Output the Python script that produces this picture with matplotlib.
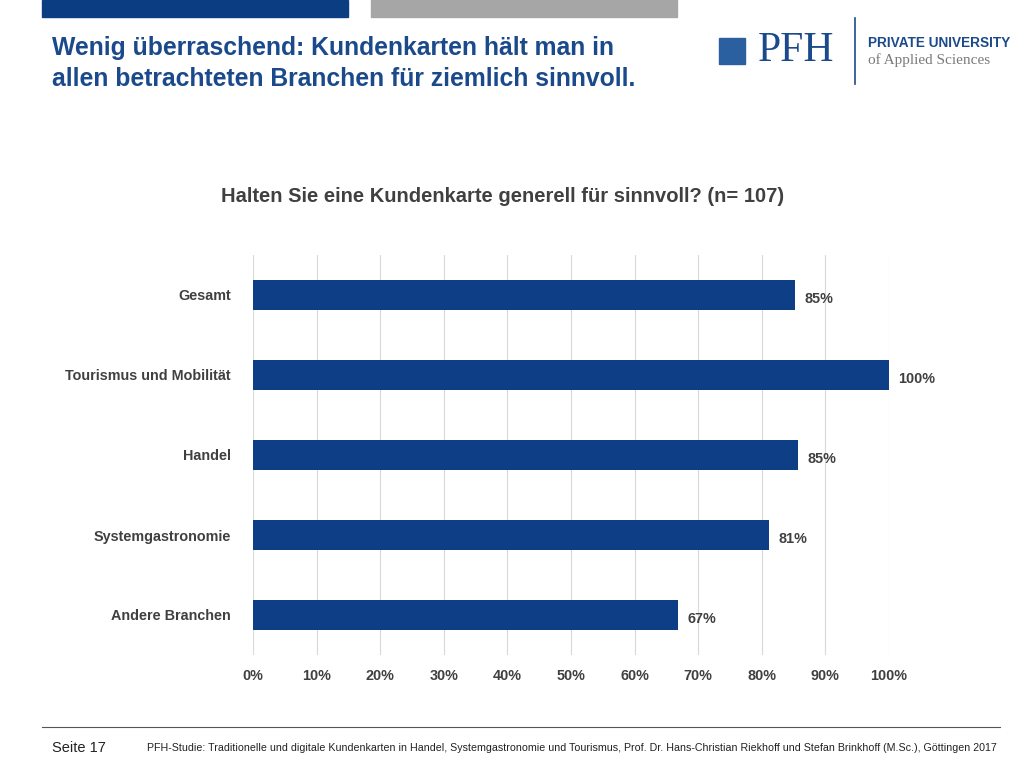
import matplotlib.pyplot as plt
from matplotlib.patches import Rectangle
from matplotlib.lines import Line2D

plt.rcParams['font.family'] = ['Liberation Sans', 'DejaVu Sans']

categories = ['Gesamt', 'Tourismus und Mobilität', 'Handel', 'Systemgastronomie', 'Andere Branchen']
values = [85.2, 100, 85.7, 81.1, 66.8]
value_labels = ['85%', '100%', '85%', '81%', '67%']
ticks = [0, 10, 20, 30, 40, 50, 60, 70, 80, 90, 100]

navy = '#0e3f86'
grey_txt = '#404040'

fig = plt.figure(figsize=(10.3, 7.7), dpi=100)
W, H = 1030, 770

def fx(x): return x / W
def fy(y): return 1 - y / H

# header bars
fig.patches.append(Rectangle((fx(42), fy(17)), fx(306), 17 / H, color='#0a3d82', transform=fig.transFigure))
fig.patches.append(Rectangle((fx(371), fy(17)), fx(306), 17 / H, color='#a6a6a6', transform=fig.transFigure))

fig.text(fx(52), fy(48), 'Wenig überraschend: Kundenkarten hält man in', fontsize=17.8, fontweight='bold', color='#1b4a8c', va='center')
fig.text(fx(52), fy(79), 'allen betrachteten Branchen für ziemlich sinnvoll.', fontsize=17.8, fontweight='bold', color='#1b4a8c', va='center')

# logo
fig.patches.append(Rectangle((fx(719), fy(64)), fx(26), 26 / H, color='#2a5fa0', transform=fig.transFigure))
fig.text(fx(758), fy(51), 'PFH', fontsize=30, family='Liberation Serif', color='#1b4a8c', va='center')
fig.lines.append(Line2D([fx(855), fx(855)], [fy(18), fy(84)], color='#1b4a8c', lw=1.2, transform=fig.transFigure))
fig.text(fx(868), fy(43), 'PRIVATE UNIVERSITY', fontsize=9.8, fontweight='bold', color='#1b4a8c', va='center')
fig.text(fx(868), fy(60), 'of Applied Sciences', fontsize=11, family='Liberation Serif', color='#7a7a7a', va='center')

fig.text(fx(503), fy(197), 'Halten Sie eine Kundenkarte generell für sinnvoll? (n= 107)', fontsize=14.5, fontweight='bold', color=grey_txt, ha='center', va='center')

ax = fig.add_axes([fx(253), fy(655), 636 / W, 400 / H])
y = range(len(categories))
ax.barh(y, values, height=0.37, color=navy)
for i, (v, lab) in enumerate(zip(values, value_labels)):
    ax.text(v + 1.5, i + 0.05, lab, fontsize=10.4, fontweight='bold', color=grey_txt, va='center')
ax.set_ylim(4.5, -0.5)
ax.set_xlim(0, 100)
ax.set_yticks(list(y))
ax.set_yticklabels(categories, fontsize=10.4, fontweight='bold', color=grey_txt)
ax.set_xticks(ticks)
ax.set_xticklabels([f'{t}%' for t in ticks], fontsize=10.4, fontweight='bold', color=grey_txt)
ax.tick_params(length=0, pad=16)
ax.tick_params(axis='x', pad=10)
ax.xaxis.grid(True, color='#d9d9d9', lw=0.8)
ax.set_axisbelow(True)
for s in ax.spines.values():
    s.set_visible(False)

fig.lines.append(Line2D([fx(42), fx(1000)], [fy(727), fy(727)], color='#555555', lw=0.8, transform=fig.transFigure))
fig.text(fx(52), fy(748), 'Seite 17', fontsize=10.5, color='#222222', va='center')
fig.text(fx(147), fy(748), 'PFH-Studie: Traditionelle und digitale Kundenkarten in Handel, Systemgastronomie und Tourismus, Prof. Dr. Hans-Christian Riekhoff und Stefan Brinkhoff (M.Sc.), Göttingen 2017',
         fontsize=7.7, color='#222222', va='center')

fig.savefig('out.png', dpi=100)
